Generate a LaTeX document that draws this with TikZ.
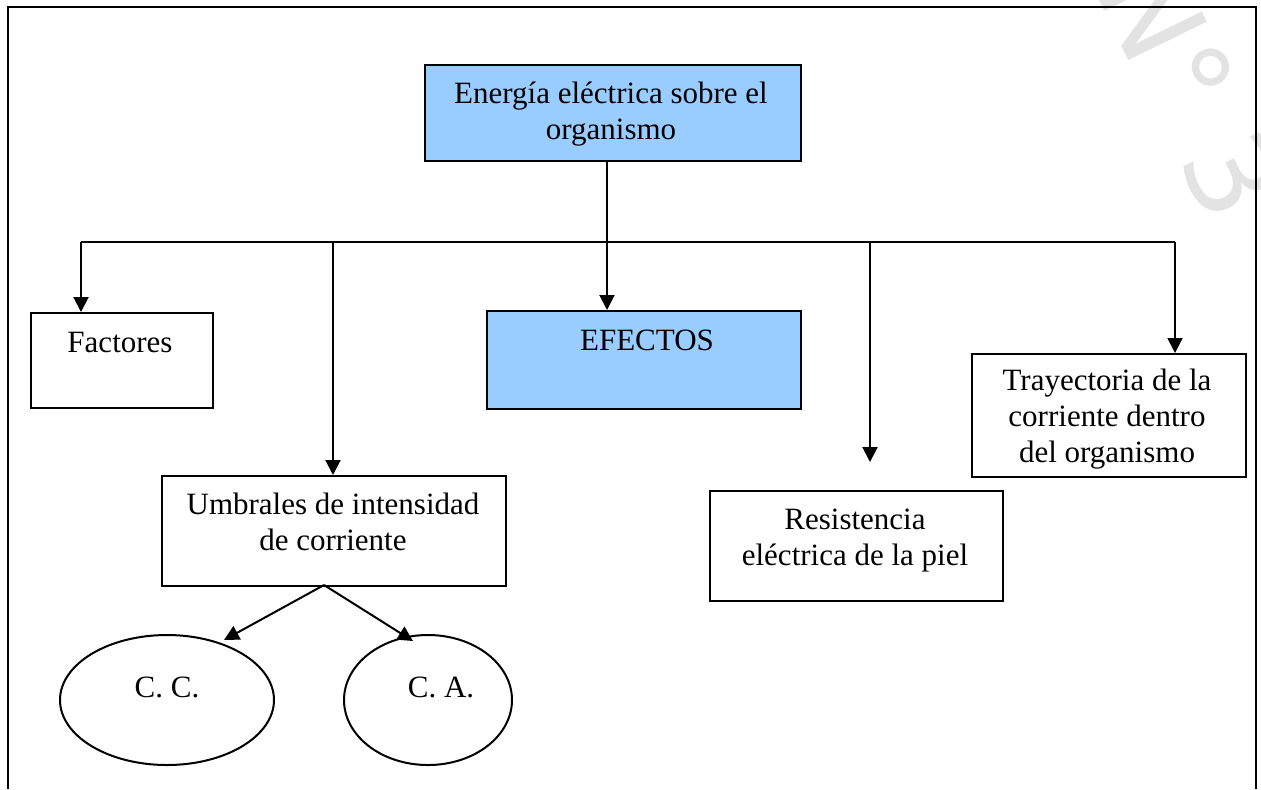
\documentclass[tikz,border=0pt]{standalone}
\usepackage{fontspec}
\setmainfont{Liberation Serif}
\newfontfamily\wmfont{DejaVu Sans}
\usetikzlibrary{arrows.meta,shapes.geometric}
\definecolor{boxblue}{HTML}{99CCFF}
\begin{document}
\begin{tikzpicture}[x=0.5pt,y=-0.5pt,
  every node/.style={font=\fontsize{15.5pt}{17.8pt}\selectfont},
  box/.style={draw, line width=1pt, inner sep=0pt, anchor=north west},
  hilite/.style={fill=boxblue},
  lbl/.style={anchor=base, align=center, inner sep=0pt},
  conn/.style={line width=1pt},
  arr/.style={line width=1pt, -{Triangle[length=7.5pt,width=7.5pt]}},
  oval/.style={draw, ellipse, line width=1pt, inner sep=0pt}]
\useasboundingbox (0,0) rectangle (1261,789);
% watermark
\begin{scope}
\clip (0,0) rectangle (1261,789);
\node[text=gray!22, rotate=-64, font=\fontsize{60pt}{60pt}\wmfont, inner sep=0pt] (wm) at (1192,90) {N° 3};
\end{scope}
% frame
\draw[line width=1.25pt] (8,789) -- (8,7) -- (1256,7) -- (1256,789);
% boxes
\node[box, hilite, minimum width=188pt, minimum height=48pt] (top) at (424,64) {};
\node[box, minimum width=91pt, minimum height=47.5pt] (fac) at (30,312) {};
\node[box, hilite, minimum width=157pt, minimum height=49pt] (efe) at (486,310) {};
\node[box, minimum width=172pt, minimum height=55pt] (umb) at (161,475) {};
\node[box, minimum width=146.5pt, minimum height=55pt] (res) at (709,490) {};
\node[box, minimum width=137pt, minimum height=61.5pt] (tra) at (971,353) {};
\node[oval, minimum width=107pt, minimum height=65pt] (cc) at (167,700) {};
\node[oval, minimum width=84pt, minimum height=65pt] (ca) at (428,700) {};
% labels (anchor=base is the baseline of the last line)
\node[lbl] (ttop) at (611,139) {Energía eléctrica sobre el\\organismo};
\node[lbl] (tfac) at (120,352) {Factores};
\node[lbl] (tefe) at (647,350) {EFECTOS};
\node[lbl] (tumb) at (333,550) {Umbrales de intensidad\\de corriente};
\node[lbl] (tres) at (855,565) {Resistencia\\eléctrica de la piel};
\node[lbl] (ttra) at (1107,462) {Trayectoria de la\\corriente dentro\\del organismo};
\node[lbl] (tcc) at (167,697) {C. C.};
\node[lbl] (tca) at (441,697) {C. A.};
% connectors
\coordinate (hL) at (81,242);
\coordinate (hU) at (333,242);
\coordinate (hC) at (607,242);
\coordinate (hR) at (870,242);
\coordinate (hT) at (1175,242);
\coordinate (rEnd) at (870,462);
\coordinate (ap) at (324,585);
\coordinate (tCC) at (224,640);
\coordinate (tCA) at (413,641);
\draw[conn] (hL) -- (hT);
\draw[conn] (hC |- top.south) -- (hC);
\draw[arr] (hL) -- (hL |- fac.north);
\draw[arr] (hU) -- (hU |- umb.north);
\draw[arr] (hC) -- (hC |- efe.north);
\draw[arr] (hR) -- (rEnd);
\draw[arr] (hT) -- (hT |- tra.north);
\draw[arr] (ap) -- (tCC);
\draw[arr] (ap) -- (tCA);
\end{tikzpicture}
\end{document}
